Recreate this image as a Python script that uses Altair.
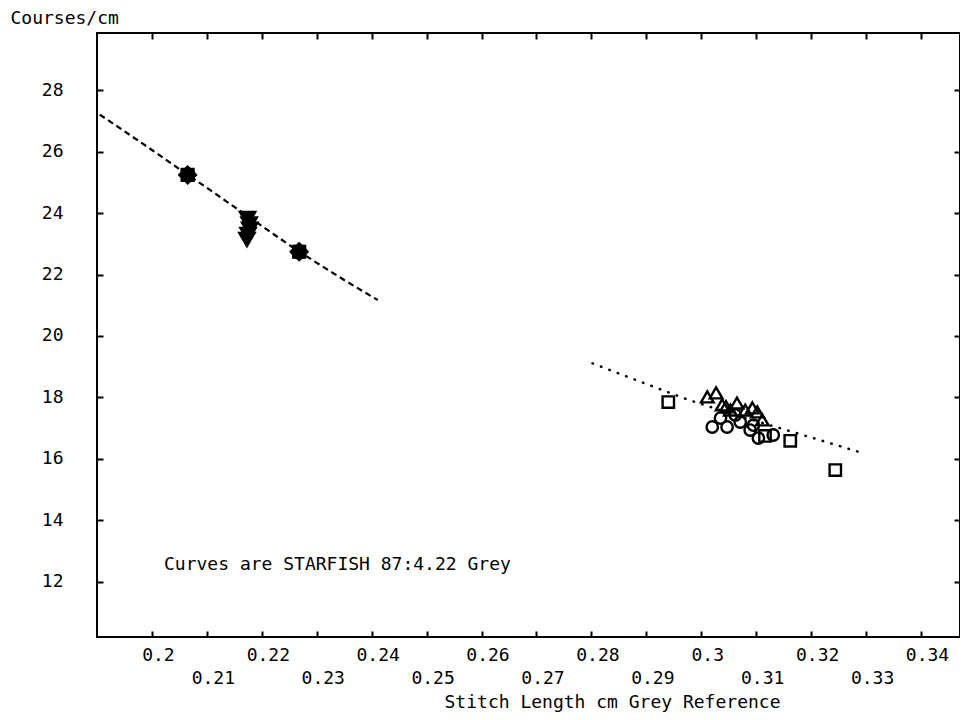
import altair as alt
import pandas as pd
import numpy as np

# ---- data ----
dash_x = [0.1905, 0.195, 0.200, 0.205, 0.210, 0.215, 0.220, 0.225, 0.230, 0.235, 0.2411]
dash_y = [27.20, 26.66, 26.05, 25.43, 24.82, 24.20, 23.58, 22.96, 22.38, 21.82, 21.17]

dot_x = [0.2802, 0.285, 0.290, 0.2974, 0.305, 0.3125, 0.3206, 0.3294]
dot_y = [19.11, 18.78, 18.44, 17.94, 17.50, 17.10, 16.67, 16.19]

star_x = [0.2065, 0.2268]
star_y = [25.24, 22.74]

tdown_x = [0.2174, 0.2177, 0.2178, 0.2175, 0.2173]
tdown_y = [23.80, 23.62, 23.45, 23.28, 23.12]

tri_x = [0.3011, 0.3027, 0.3038, 0.3053, 0.3065, 0.3080, 0.3093, 0.3102, 0.3111, 0.3045]
tri_y = [18.02, 18.15, 17.76, 17.59, 17.82, 17.59, 17.66, 17.53, 17.27, 17.70]

circ_x = [0.3020, 0.3047, 0.3035, 0.3071, 0.3089, 0.3104, 0.3131, 0.3062, 0.3095]
circ_y = [17.04, 17.04, 17.33, 17.20, 16.94, 16.68, 16.78, 17.43, 17.10]

sq_x = [0.2940, 0.3116, 0.3162, 0.3244]
sq_y = [17.85, 16.75, 16.59, 15.64]

x_ticks = [0.20, 0.21, 0.22, 0.23, 0.24, 0.25, 0.26, 0.27, 0.28, 0.29, 0.30,
           0.31, 0.32, 0.33, 0.34]
y_ticks = [12, 14, 16, 18, 20, 22, 24, 26, 28]

note_text = ["Curves are STARFISH 87:4.22 Grey"]
note_x = [0.2022]
note_y = [12.55]

FONT = "DejaVu Sans Mono"
FS = 18

xs = alt.Scale(domain=[0.19, 0.3471], nice=False, zero=False)
ys = alt.Scale(domain=[10.21, 29.855], nice=False, zero=False)

# 8-point star shape
ang = np.arange(16) * np.pi / 8
rad = np.where(np.arange(16) % 2 == 0, 1.0, 0.78)
star_path = "M" + " L".join(f"{r*np.cos(a):.3f},{r*np.sin(a):.3f}" for r, a in zip(rad, ang)) + " Z"

left_axis = alt.Axis(orient="left", offset=-6, values=y_ticks, tickSize=6, tickWidth=2,
                     tickColor="black", domain=False, grid=False, format="d",
                     labelFont=FONT, labelFontSize=FS, labelColor="black", labelPadding=34,
                     title="Courses/cm", titleFont=FONT, titleFontSize=FS, titleFontWeight="normal",
                     titleColor="black", titleAngle=0, titleAlign="left", titleBaseline="middle",
                     titleX=-93, titleY=-15)
right_axis = alt.Axis(orient="right", offset=-6, values=y_ticks, tickSize=6, tickWidth=2,
                      tickColor="black", domain=False, grid=False, labels=False, title=None)
bottom_axis = alt.Axis(orient="bottom", offset=-6, values=x_ticks, tickSize=6, tickWidth=2,
                       tickColor="black", domain=False, grid=False, format=".2~f",
                       labelFont=FONT, labelFontSize=FS, labelColor="black", labelPadding=9,
                       labelExpr="(round(datum.value*100) % 2 == 0) ? datum.label : ['', datum.label]",
                       labelOverlap=False, labelFlush=False, labelBound=False, labelLineHeight=23,
                       labelOffset=6,
                       title="Stitch Length cm Grey Reference", titleFont=FONT, titleFontSize=FS,
                       titleFontWeight="normal", titleColor="black", titleX=515, titleY=71,
                       titleBaseline="middle", titleAlign="center")
top_axis = alt.Axis(orient="top", offset=-6, values=x_ticks, tickSize=6, tickWidth=2,
                    tickColor="black", domain=False, grid=False, labels=False, title=None)

df_dash = pd.DataFrame({"x": dash_x, "y": dash_y})
df_dot = pd.DataFrame({"x": dot_x, "y": dot_y})

dash = alt.Chart(df_dash).mark_line(color="black", strokeWidth=2.2, strokeDash=[6, 4]).encode(
    x=alt.X("x:Q", scale=xs, axis=bottom_axis),
    y=alt.Y("y:Q", scale=ys, axis=left_axis),
)
dot = alt.Chart(df_dot).mark_line(color="black", strokeWidth=2.5, strokeDash=[0.5, 8.5],
                                  strokeCap="round").encode(
    x=alt.X("x:Q", scale=xs, axis=top_axis),
    y=alt.Y("y:Q", scale=ys, axis=right_axis),
)

def pts(xv, yv):
    return pd.DataFrame({"x": xv, "y": yv})

enc = dict(x=alt.X("x:Q", scale=xs, axis=None), y=alt.Y("y:Q", scale=ys, axis=None))

stars = alt.Chart(pts(star_x, star_y)).mark_point(shape=star_path, filled=True, color="black",
                                                  size=400, opacity=1).encode(**enc)
tdown = alt.Chart(pts(tdown_x, tdown_y)).mark_point(shape="triangle-down", filled=True,
                                                    color="black", size=380, opacity=1).encode(**enc)
tris = alt.Chart(pts(tri_x, tri_y)).mark_point(shape="triangle-up", filled=False, color="black",
                                               strokeWidth=2.4, size=160, opacity=1).encode(**enc)
circs = alt.Chart(pts(circ_x, circ_y)).mark_point(shape="circle", filled=False, color="black",
                                                  strokeWidth=2.4, size=130, opacity=1).encode(**enc)
sqs = alt.Chart(pts(sq_x, sq_y)).mark_point(shape="square", filled=False, color="black",
                                            strokeWidth=2.4, size=130, opacity=1).encode(**enc)

note = alt.Chart(pd.DataFrame({"x": note_x, "y": note_y, "t": note_text})).mark_text(
    align="left", baseline="middle", font=FONT, fontSize=FS, color="black").encode(
    x=alt.X("x:Q", scale=xs, axis=None), y=alt.Y("y:Q", scale=ys, axis=None), text="t:N")

chart = alt.layer(dash, dot, stars, tdown, tris, circs, sqs, note).resolve_axis(
    x="independent", y="independent"
).properties(
    width=863, height=604, autosize="none",
    padding={"left": 89, "top": 25, "right": 0, "bottom": 75},
    background="white",
).configure_view(stroke="black", strokeWidth=2)

chart.save("out.html", embed_options={"renderer": "svg", "actions": False})
